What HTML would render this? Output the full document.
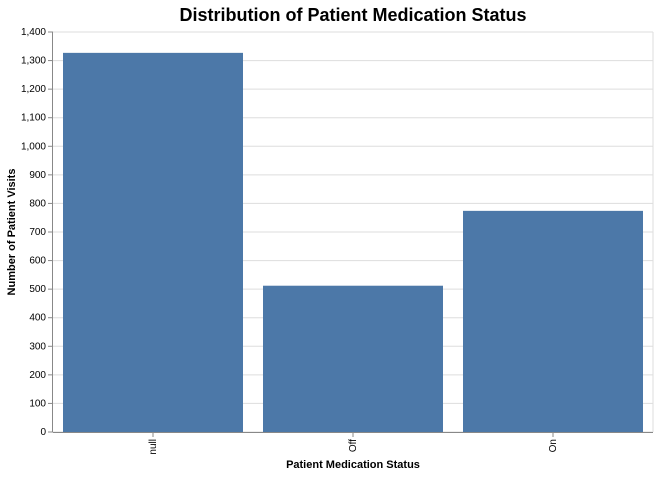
<!DOCTYPE html>
<html><head><meta charset="utf-8"><style>
body{margin:0;background:#fff;font-family:"Liberation Sans",Arial,sans-serif}
</style></head><body>
<svg id="chart" width="658" height="475" xmlns="http://www.w3.org/2000/svg" font-family="Liberation Sans, Arial, sans-serif"></svg>
<script>
const categories=["null","Off","On"];
const values=[1327,512,774];
const yTicks=[0,100,200,300,400,500,600,700,800,900,1000,1100,1200,1300,1400];
const tickLabels=["0","100","200","300","400","500","600","700","800","900","1,000","1,100","1,200","1,300","1,400"];
const svg=document.getElementById('chart');
const NS="http://www.w3.org/2000/svg";
const L=53,T=32,W=600,H=400,ymax=1400;
const y=v=>T+H-v/ymax*H;
const pi=0.1,po=0.05;
const step=W/(categories.length-pi+2*po);
const x=i=>L+po*step+i*step;
const bw=step*(1-pi);
function mk(tag,attrs,txt){const e=document.createElementNS(NS,tag);for(const k in attrs)e.setAttribute(k,attrs[k]);if(txt!==undefined)e.textContent=txt;svg.appendChild(e);return e;}
yTicks.forEach((t,i)=>{
 const g=mk('line',{x1:L,x2:L+W,y1:y(t),y2:y(t),stroke:'#ddd'});
 
 
 const tk=mk('line',{x1:L-5,x2:L,y1:y(t),y2:y(t),stroke:'#888'});
 
 
 const lb=mk('text',{x:L-7,y:y(t)+3,'text-anchor':'end','font-size':10,fill:'#000'},tickLabels[i]);
 
 
});
mk('line',{x1:L+W,x2:L+W,y1:T,y2:T+H,stroke:'#ddd'});
categories.forEach((c,i)=>{
 const r=mk('rect',{x:x(i),y:y(values[i]),width:bw,height:y(0)-y(values[i]),fill:'#4c78a8'});
 
 
 const cx=x(i)+bw/2;
 const tk=mk('line',{x1:cx,x2:cx,y1:T+H,y2:T+H+5,stroke:'#888'});
 
 
 const lb=mk('text',{x:0,y:0,'text-anchor':'end','font-size':10,transform:`translate(${cx+3},${T+H+7}) rotate(-90)`},c);
 
 
});
const ax=mk('line',{x1:L,x2:L+W,y1:T+H+0.5,y2:T+H+0.5,stroke:'#888'});


const ay=mk('line',{x1:L-0.5,x2:L-0.5,y1:T,y2:T+H,stroke:'#888'});


const xt=mk('text',{x:L+W/2,y:468,'text-anchor':'middle','font-size':11,'font-weight':'bold'},'Patient Medication Status');


const yt=mk('text',{x:0,y:0,'text-anchor':'middle','font-size':11,'font-weight':'bold',transform:`translate(15,${T+H/2}) rotate(-90)`},'Number of Patient Visits');


const tt=mk('text',{x:L+W/2,y:21,'text-anchor':'middle','font-size':18,'font-weight':'bold'},'Distribution of Patient Medication Status');


</script>
</body></html>
